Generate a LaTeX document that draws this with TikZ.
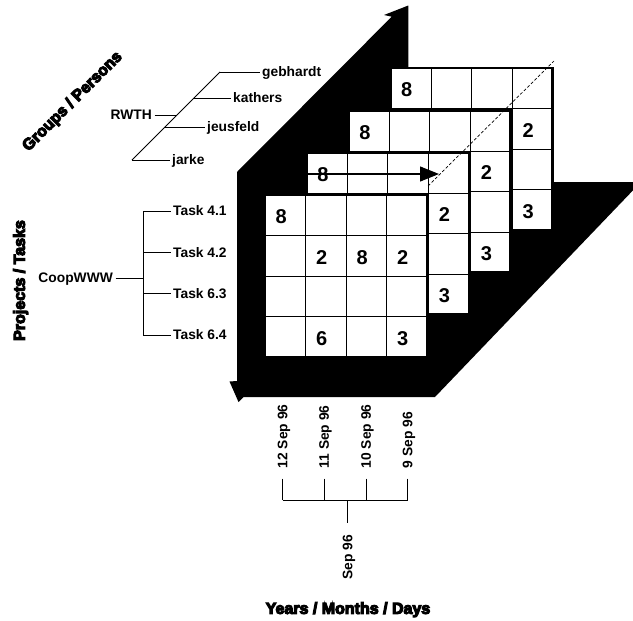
\documentclass[tikz,border=0pt]{standalone}
\usepackage{fontspec}
\setmainfont{Liberation Sans}
\usetikzlibrary{arrows.meta,calc}

% extra-heavy lettering: bold glyphs filled and stroked
\newcommand\heavytext[1]{\special{pdf:literal direct 2 Tr 1.1 w}#1\special{pdf:literal direct 0 Tr}}

\tikzset{
  wall/.style={fill=black},
  cellgrid/.style={line width=0.7pt},
  slicebox/.style={line width=2.6pt, line join=miter},
  val/.style={font=\bfseries\fontsize{20}{20}\selectfont, inner sep=0pt},
  lbl/.style={font=\bfseries\fontsize{13.8}{15}\selectfont, inner sep=2.5pt,
              text height=9.9pt, text depth=0pt},
  axtitle/.style={font=\bfseries\fontsize{16}{18}\selectfont, inner sep=0pt,
              text height=11.7pt, text depth=0pt},
  tree/.style={line width=0.8pt},
  flow/.style={line width=1.2pt, -{Triangle[length=19pt,width=15pt]}},
  edge3d/.style={line width=0.7pt, dash pattern=on 3pt off 2pt},
}

% one 4x4 slice of the cube; #1 = depth index, #2 = col/row/value entries
\newcommand\drawslice[2]{%
  \begin{scope}[shift={(265+41.8*#1,195-42.3*#1)}]
    \fill[white] (0,0) rectangle (162,162);
    \foreach \gg in {40.5,81,121.5}{
      \draw[cellgrid] (\gg,0) -- (\gg,162);
      \draw[cellgrid] (0,\gg) -- (162,\gg);
    }
    \draw[slicebox] (0,0) rectangle (162,162);
    \foreach \cc/\rr/\vv in {#2}{
      \node[val] (v#1-\cc-\rr) at ({40.5*\cc-24.25},{40.5*\rr-18.75}) {\vv};
    }
  \end{scope}}

\begin{document}
\begin{tikzpicture}[x=1pt,y=-1pt]
  \useasboundingbox (0,0) rectangle (633,621);
  \fill[white] (0,0) rectangle (633,621);
  \clip (0,0) rectangle (633,621);

  % black walls of the cube with the two axis arrow heads
  \fill[wall] (237,381) -- (229.5,381.5) -- (238.5,402) -- (243.5,397)
    -- (435,397) -- (641,182) -- (552.4,182) -- (552.4,68.1) -- (408.3,68.1)
    -- (408.3,5.5) -- (384,15) -- (391.7,16.7) -- (237,172) -- cycle;

  % slices, back to front
  \drawslice{3}{1/1/8, 4/2/2, 4/4/3}
  \drawslice{2}{1/1/8, 4/2/2, 4/4/3}
  \drawslice{1}{1/1/8, 4/2/2, 4/4/3}
  \drawslice{0}{1/1/8, 2/2/2, 3/2/8, 4/2/2, 2/4/6, 4/4/3}

  % diagonal cube edge and the roll-up arrow
  \coordinate (e0) at (428,186);
  \coordinate (e1) at (554,61);
  \draw[edge3d] (e0) -- (e1);
  \coordinate (a0) at (306.8,174);
  \coordinate (a1) at (439,174);
  \draw[flow] (a0) -- (a1);

  % axis titles
  \node[axtitle,rotate=45] (tg) at (71.5,100.5) {\heavytext{Groups / Persons}};
  \node[axtitle,rotate=90] (tp) at (19,280.5) {\heavytext{Projects / Tasks}};
  \node[axtitle] (ty) at (348,608) {\heavytext{Years / Months / Days}};

  % groups / persons hierarchy
  \coordinate (pa) at (132,160);
  \coordinate (pb) at (220,72);
  \coordinate (pk) at (194,98);
  \coordinate (pj) at (165,127);
  \coordinate (pr) at (177,115);
  \draw[tree] (pa) -- (pb);
  \node[lbl,anchor=west] (geb) at (259.5,72) {gebhardt};
  \node[lbl,anchor=west] (kat) at (230.5,98) {kathers};
  \node[lbl,anchor=west] (jeu) at (204.5,127) {jeusfeld};
  \node[lbl,anchor=west] (jar) at (169.5,160) {jarke};
  \node[lbl,anchor=east] (rwth) at (154.5,115) {RWTH};
  \draw[tree] (pb) -- (geb);
  \draw[tree] (pk) -- (kat);
  \draw[tree] (pj) -- (jeu);
  \draw[tree] (pa) -- (jar);
  \draw[tree] (rwth) -- (pr);

  % projects / tasks hierarchy
  \node[lbl,anchor=east] (coop) at (115.5,278) {CoopWWW};
  \coordinate (tj) at (143,278);
  \coordinate (tv1) at (143,211);
  \coordinate (tv2) at (143,252.5);
  \coordinate (tv3) at (143,293.5);
  \coordinate (tv4) at (143,335);
  \draw[tree] (coop) -- (tj);
  \draw[tree] (tv1) -- (tv4);
  \node[lbl,anchor=west] (t1) at (170.5,211) {Task 4.1};
  \node[lbl,anchor=west] (t2) at (170.5,252.5) {Task 4.2};
  \node[lbl,anchor=west] (t3) at (170.5,293.5) {Task 6.3};
  \node[lbl,anchor=west] (t4) at (170.5,335) {Task 6.4};
  \draw[tree] (tv1) -- (t1);
  \draw[tree] (tv2) -- (t2);
  \draw[tree] (tv3) -- (t3);
  \draw[tree] (tv4) -- (t4);

  % years / months / days hierarchy
  \node[lbl,rotate=90,anchor=west] (d12) at (282.5,471) {12 Sep 96};
  \node[lbl,rotate=90,anchor=west] (d11) at (324,471) {11 Sep 96};
  \node[lbl,rotate=90,anchor=west] (d10) at (366,471) {10 Sep 96};
  \node[lbl,rotate=90,anchor=west] (d9) at (407.5,471) {9 Sep 96};
  \coordinate (b12) at (282.5,500);
  \coordinate (b11) at (324,500);
  \coordinate (b10) at (366,500);
  \coordinate (b9) at (407.5,500);
  \coordinate (bm) at (347.5,500);
  \draw[tree,shorten <=7.5pt] (d12.west) -- (b12);
  \draw[tree,shorten <=7.5pt] (d11.west) -- (b11);
  \draw[tree,shorten <=7.5pt] (d10.west) -- (b10);
  \draw[tree,shorten <=7.5pt] (d9.west) -- (b9);
  \draw[tree] (b12) -- (b9);
  \node[lbl,rotate=90,anchor=east] (sep) at (347.5,532.5) {Sep 96};
  \draw[tree,shorten >=9.5pt] (bm) -- (sep.east);
\end{tikzpicture}
\end{document}
